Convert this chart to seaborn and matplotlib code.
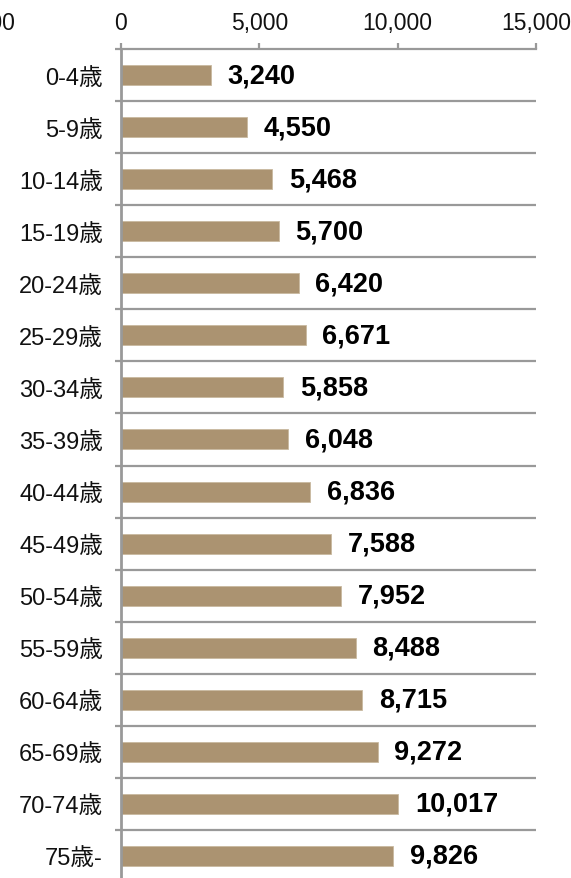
import matplotlib
matplotlib.use("Agg")
import matplotlib.pyplot as plt
import seaborn as sns
import pandas as pd
import numpy as np

categories = ["0-4歳", "5-9歳", "10-14歳", "15-19歳", "20-24歳", "25-29歳", "30-34歳",
              "35-39歳", "40-44歳", "45-49歳", "50-54歳", "55-59歳", "60-64歳",
              "65-69歳", "70-74歳", "75歳-"]
values = [3240, 4550, 5468, 5700, 6420, 6671, 5858, 6048, 6836, 7588, 7952, 8488,
          8715, 9272, 10017, 9826]
x_ticks = [-5000, 0, 5000, 10000, 15000]

sns.set_theme(style="white")
FAM = ["Liberation Sans", "Noto Sans CJK JP", "DejaVu Sans"]
plt.rcParams["font.family"] = FAM

df = pd.DataFrame({"cat": categories, "val": values})

fig = plt.figure(figsize=(5.71, 8.79), dpi=100)
ax = fig.add_axes([-17.4 / 571, -4 / 879, 553.4 / 571, 833 / 879])

sns.barplot(data=df, x="val", y="cat", orient="h", color="#AB9371",
            saturation=1, width=0.385, ax=ax, edgecolor="#C9B9A0", linewidth=0.6)

n = len(categories)
ax.set_xlim(-5000, 15000)
ax.set_ylim(n - 0.5, -0.5)

grey = "#999999"
# horizontal separators between categories
bounds = np.arange(n + 1) - 0.5
ax.hlines(bounds[1:], 0, 15000, color=grey, linewidth=1.6, zorder=0)

# top axis
ax.xaxis.tick_top()
ax.set_xticks(x_ticks)
ax.set_xticklabels([f"{t:,}" for t in x_ticks], fontsize=16.5, color="#111111")
ax.tick_params(axis="x", direction="out", length=4.5, width=1.6, color=grey, pad=6.5)
ax.spines["top"].set_bounds(0, 15000)
ax.spines["top"].set_color(grey)
ax.spines["top"].set_linewidth(1.6)

# left axis at zero
ax.spines["left"].set_position(("data", 0))
ax.spines["left"].set_color(grey)
ax.spines["left"].set_linewidth(2.0)
ax.spines["right"].set_visible(False)
ax.spines["bottom"].set_visible(False)
ax.set_yticks(range(n))
ax.set_yticklabels(categories, fontsize=17, color="#111111")
ax.tick_params(axis="y", which="major", length=0, pad=13)
ax.set_yticks(bounds, minor=True)
ax.tick_params(axis="y", which="minor", direction="out", length=4.5, width=1.6,
               color=grey, left=True)

ax.set_xlabel("")
ax.set_ylabel("")

for c in ax.containers:
    ax.bar_label(c, labels=[f"{v:,}" for v in values], padding=12,
                 fontsize=19.5, fontweight="bold", color="black")

fig.savefig("out.png", dpi=100)
